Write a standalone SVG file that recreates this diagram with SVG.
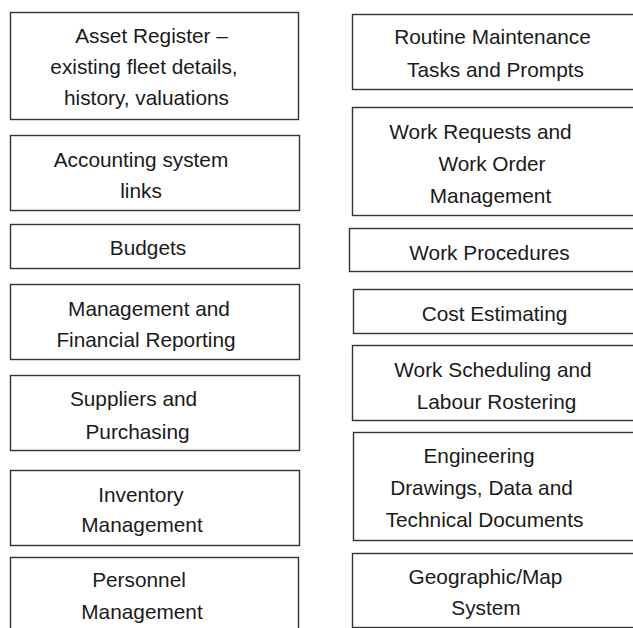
<svg xmlns="http://www.w3.org/2000/svg" width="633" height="628" viewBox="0 0 633 628">
<style>
.box{fill:#fff;stroke:#333;stroke-width:1.4}
.t{font-family:"Liberation Sans",Arial,sans-serif;font-size:20.8px;fill:#1a1a1a;text-anchor:middle}
</style>
<rect width="633" height="628" fill="#fff"/>
<g id="asset-register"><rect class="box" x="10.5" y="12.5" width="288" height="107"/>
<text class="t"><tspan x="151.5" y="43">Asset Register –</tspan><tspan x="144" y="74">existing fleet details,</tspan><tspan x="146.5" y="105">history, valuations</tspan></text></g>
<g id="accounting"><rect class="box" x="10.5" y="135.5" width="289" height="75"/>
<text class="t"><tspan x="141" y="167">Accounting system</tspan><tspan x="141" y="198">links</tspan></text></g>
<g id="budgets"><rect class="box" x="10.5" y="224.5" width="289" height="44"/>
<text class="t" x="148" y="255">Budgets</text></g>
<g id="mgmt-reporting"><rect class="box" x="10.5" y="284.5" width="289" height="75"/>
<text class="t"><tspan x="149" y="316">Management and</tspan><tspan x="146" y="347">Financial Reporting</tspan></text></g>
<g id="suppliers"><rect class="box" x="10.5" y="375.5" width="289" height="75"/>
<text class="t"><tspan x="133.5" y="406">Suppliers and</tspan><tspan x="137.5" y="439">Purchasing</tspan></text></g>
<g id="inventory"><rect class="box" x="10.5" y="470.5" width="289" height="75"/>
<text class="t"><tspan x="141" y="502">Inventory</tspan><tspan x="142" y="532">Management</tspan></text></g>
<g id="personnel"><rect class="box" x="10.5" y="557.5" width="288" height="80"/>
<text class="t"><tspan x="139" y="587">Personnel</tspan><tspan x="142" y="619">Management</tspan></text></g>
<g id="routine-maint"><rect class="box" x="352.5" y="14.5" width="290" height="75"/>
<text class="t"><tspan x="492.5" y="44">Routine Maintenance</tspan><tspan x="495.5" y="77">Tasks and Prompts</tspan></text></g>
<g id="work-requests"><rect class="box" x="352.5" y="107.5" width="290" height="108"/>
<text class="t"><tspan x="480.5" y="139">Work Requests and</tspan><tspan x="492" y="171">Work Order</tspan><tspan x="490.5" y="203">Management</tspan></text></g>
<g id="work-procedures"><rect class="box" x="349.5" y="228.5" width="293" height="43"/>
<text class="t" x="489.5" y="260">Work Procedures</text></g>
<g id="cost-estimating"><rect class="box" x="353.5" y="289.5" width="289" height="44"/>
<text class="t" x="494.5" y="321">Cost Estimating</text></g>
<g id="work-scheduling"><rect class="box" x="352.5" y="345.5" width="290" height="75"/>
<text class="t"><tspan x="493" y="377">Work Scheduling and</tspan><tspan x="496.5" y="409">Labour Rostering</tspan></text></g>
<g id="engineering"><rect class="box" x="353.5" y="432.5" width="289" height="108"/>
<text class="t"><tspan x="479" y="463">Engineering</tspan><tspan x="481.5" y="495">Drawings, Data and</tspan><tspan x="484.5" y="527">Technical Documents</tspan></text></g>
<g id="geographic"><rect class="box" x="352.5" y="553.5" width="290" height="74"/>
<text class="t"><tspan x="485.5" y="584">Geographic/Map</tspan><tspan x="486" y="615">System</tspan></text></g>
<g id="connectors"></g>
</svg>
